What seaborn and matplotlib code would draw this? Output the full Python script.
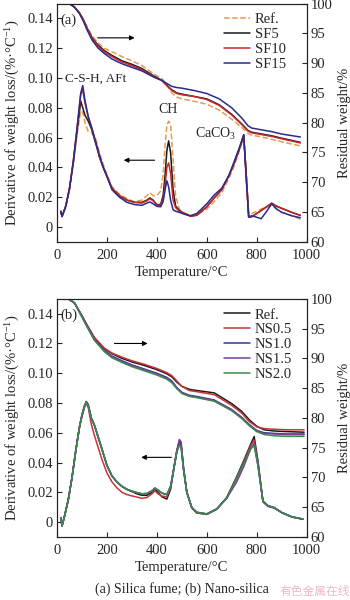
# TG / DTG curves of the cement pastes: (a) silica fume, (b) nano-silica

import matplotlib
matplotlib.use('Agg')
import matplotlib.pyplot as plt
import seaborn as sns
import pandas as pd
import numpy as np

# ---- panel (a): DTG curves, left axis ----
temp_a_dtg = [15, 20, 35, 50, 65, 80, 95, 103, 112, 125,
              140, 155, 170, 185, 200, 220, 250, 280, 310, 340,
              360, 372, 385, 400, 415, 425, 433, 440, 447, 455,
              465, 475, 490, 510, 535, 560, 600, 630, 660, 690,
              710, 730, 748, 758, 768, 780, 800, 818, 840, 860,
              880, 900, 940, 975]
ref_a_dtg = [0.0105, 0.0072, 0.013, 0.025, 0.042, 0.062, 0.078, 0.077, 0.070, 0.064,
             0.063, 0.059, 0.050, 0.042, 0.035, 0.027, 0.022, 0.019, 0.017, 0.018,
             0.021, 0.023, 0.021, 0.021, 0.024, 0.035, 0.055, 0.068, 0.071, 0.069,
             0.045, 0.021, 0.012, 0.0095, 0.0078, 0.008, 0.012, 0.017, 0.023, 0.033,
             0.041, 0.051, 0.060, 0.038, 0.009, 0.009, 0.0105, 0.012, 0.0135, 0.0145,
             0.012, 0.010, 0.0075, 0.0052]
sf5_a_dtg = [0.0105, 0.007, 0.014, 0.026, 0.043, 0.064, 0.0845, 0.080, 0.075, 0.071,
             0.065, 0.056, 0.047, 0.040, 0.034, 0.026, 0.021, 0.018, 0.0165, 0.0165,
             0.018, 0.0195, 0.018, 0.015, 0.015, 0.021, 0.035, 0.051, 0.0578, 0.050,
             0.025, 0.014, 0.011, 0.009, 0.0072, 0.0078, 0.0135, 0.0195, 0.025, 0.035,
             0.043, 0.052, 0.062, 0.035, 0.0065, 0.0068, 0.009, 0.011, 0.0135, 0.0158,
             0.0138, 0.0125, 0.0098, 0.0078]
sf10_a_dtg = [0.0105, 0.007, 0.014, 0.026, 0.044, 0.066, 0.089, 0.092, 0.083, 0.074,
              0.066, 0.057, 0.047, 0.040, 0.034, 0.026, 0.021, 0.018, 0.0165, 0.016,
              0.0175, 0.019, 0.0175, 0.0145, 0.0145, 0.019, 0.028, 0.040, 0.043, 0.036,
              0.018, 0.013, 0.0105, 0.009, 0.0072, 0.008, 0.0135, 0.0195, 0.025, 0.035,
              0.043, 0.052, 0.0615, 0.035, 0.0065, 0.0068, 0.009, 0.011, 0.0135, 0.016,
              0.014, 0.0125, 0.0098, 0.0077]
sf15_a_dtg = [0.0105, 0.007, 0.014, 0.026, 0.044, 0.066, 0.090, 0.095, 0.085, 0.074,
              0.066, 0.057, 0.048, 0.040, 0.034, 0.025, 0.020, 0.0165, 0.015, 0.0145,
              0.016, 0.0168, 0.0155, 0.0138, 0.0135, 0.017, 0.025, 0.031, 0.027, 0.018,
              0.0115, 0.0105, 0.0098, 0.0085, 0.0075, 0.009, 0.0155, 0.0215, 0.026, 0.035,
              0.044, 0.053, 0.0615, 0.032, 0.0068, 0.0075, 0.0065, 0.0055, 0.0105, 0.0155,
              0.012, 0.0098, 0.0075, 0.0062]

# ---- panel (a): TG curves, right axis ----
temp_a_tg = [20, 50, 70, 90, 105, 120, 140, 165, 190, 220,
             260, 300, 340, 390, 420, 440, 460, 480, 500, 550,
             600, 650, 700, 740, 765, 780, 820, 860, 900, 975]
ref_a_tg = [100, 100, 99.4, 98.5, 97.4, 96.1, 94.6, 93.4, 92.5, 91.9,
            91.1, 90.4, 89.6, 88.1, 87.4, 86.4, 85.0, 84.3, 84.0, 83.6,
            83.1, 82.1, 80.6, 79.2, 78.2, 77.9, 77.6, 77.2, 76.8, 76.1]
sf5_a_tg = [100, 100, 99.4, 98.4, 97.3, 95.9, 94.3, 93.0, 92.1, 91.3,
            90.4, 89.8, 89.1, 87.8, 87.1, 86.3, 85.5, 85.0, 84.8, 84.4,
            84.0, 83.0, 81.4, 79.8, 78.7, 78.4, 78.1, 77.8, 77.4, 76.7]
sf10_a_tg = [100, 100, 99.4, 98.4, 97.3, 95.9, 94.2, 92.8, 91.9, 91.1,
             90.2, 89.6, 88.9, 87.7, 87.1, 86.2, 85.4, 84.9, 84.7, 84.4,
             83.9, 82.9, 81.3, 79.7, 78.6, 78.3, 78.0, 77.7, 77.3, 76.6]
sf15_a_tg = [100, 100, 99.4, 98.3, 97.1, 95.6, 93.9, 92.5, 91.6, 90.7,
             89.9, 89.3, 88.7, 87.6, 87.1, 86.6, 86.1, 85.9, 85.8, 85.4,
             84.9, 84.0, 82.5, 80.8, 79.5, 79.1, 78.8, 78.5, 78.1, 77.6]

# ---- panel (b): DTG curves ----
temp_b_dtg = [15, 20, 30, 45, 60, 75, 90, 100, 110, 117,
              125, 137, 150, 165, 180, 200, 220, 240, 260, 280,
              300, 320, 340, 360, 380, 392, 405, 420, 440, 455,
              468, 480, 490, 497, 507, 520, 540, 560, 600, 640,
              680, 720, 750, 775, 790, 805, 825, 845, 870, 900,
              940, 985]
ref_b_dtg = [0.003, -0.0025, 0.004, 0.015, 0.030, 0.048, 0.064, 0.072, 0.078, 0.081,
             0.079, 0.070, 0.065, 0.057, 0.049, 0.038, 0.031, 0.027, 0.024, 0.022,
             0.0205, 0.019, 0.018, 0.018, 0.020, 0.022, 0.020, 0.017, 0.0155, 0.022,
             0.036, 0.048, 0.054, 0.052, 0.036, 0.020, 0.0095, 0.0062, 0.0052, 0.0087,
             0.0165, 0.0305, 0.042, 0.052, 0.0575, 0.041, 0.014, 0.011, 0.0096, 0.0064,
             0.0035, 0.002]
ns05_b_dtg = [0.003, -0.0025, 0.004, 0.015, 0.030, 0.048, 0.064, 0.071, 0.077, 0.080,
              0.077, 0.066, 0.058, 0.050, 0.042, 0.033, 0.027, 0.023, 0.020, 0.0185,
              0.0176, 0.0168, 0.016, 0.0165, 0.019, 0.021, 0.019, 0.0175, 0.017, 0.023,
              0.036, 0.048, 0.054, 0.053, 0.036, 0.020, 0.0095, 0.0062, 0.0052, 0.0087,
              0.0165, 0.030, 0.041, 0.051, 0.055, 0.040, 0.014, 0.011, 0.0096, 0.0064,
              0.0035, 0.002]
ns10_b_dtg = [0.003, -0.0025, 0.004, 0.015, 0.030, 0.048, 0.064, 0.072, 0.078, 0.0805,
              0.078, 0.070, 0.065, 0.057, 0.049, 0.038, 0.031, 0.027, 0.024, 0.022,
              0.0208, 0.0198, 0.019, 0.0192, 0.021, 0.0228, 0.0215, 0.0195, 0.0185, 0.024,
              0.036, 0.047, 0.054, 0.052, 0.035, 0.020, 0.0098, 0.0066, 0.0055, 0.0088,
              0.0162, 0.0295, 0.040, 0.049, 0.052, 0.038, 0.014, 0.011, 0.0098, 0.0065,
              0.0036, 0.002]
ns15_b_dtg = [0.003, -0.0025, 0.004, 0.015, 0.030, 0.048, 0.064, 0.072, 0.078, 0.0805,
              0.078, 0.070, 0.065, 0.057, 0.049, 0.038, 0.031, 0.027, 0.024, 0.022,
              0.0208, 0.0198, 0.019, 0.0192, 0.021, 0.0228, 0.0215, 0.0195, 0.0185, 0.024,
              0.036, 0.048, 0.0555, 0.054, 0.036, 0.020, 0.0098, 0.0066, 0.0055, 0.0088,
              0.0160, 0.027, 0.038, 0.049, 0.053, 0.040, 0.0135, 0.0105, 0.0095, 0.0065,
              0.0036, 0.002]
ns20_b_dtg = [0.003, -0.0025, 0.004, 0.015, 0.030, 0.048, 0.064, 0.072, 0.078, 0.0805,
              0.078, 0.070, 0.065, 0.057, 0.049, 0.038, 0.031, 0.027, 0.024, 0.022,
              0.0208, 0.0198, 0.019, 0.0192, 0.021, 0.0228, 0.0215, 0.0195, 0.0185, 0.024,
              0.036, 0.047, 0.0515, 0.050, 0.035, 0.020, 0.0098, 0.0066, 0.0055, 0.0088,
              0.0162, 0.0295, 0.040, 0.049, 0.0515, 0.038, 0.014, 0.011, 0.0098, 0.0065,
              0.0036, 0.002]

# ---- panel (b): TG curves ----
temp_b_tg = [20, 45, 70, 95, 120, 150, 190, 220, 260, 300,
             350, 400, 440, 460, 480, 500, 530, 560, 630, 700,
             740, 770, 800, 830, 870, 920, 990]
ref_b_tg = [100, 100, 99.3, 97.5, 95.6, 93.4, 91.6, 90.8, 90.0, 89.4,
            88.8, 88.1, 87.4, 86.9, 86.0, 85.3, 84.8, 84.6, 84.2, 82.4,
            81.1, 79.7, 78.6, 78.0, 77.8, 77.7, 77.6]
ns05_b_tg = [100, 100, 99.3, 97.5, 95.6, 93.5, 91.7, 90.9, 90.2, 89.6,
             89.0, 88.3, 87.6, 87.1, 86.2, 85.3, 84.6, 84.4, 83.9, 82.1,
             80.8, 79.4, 78.5, 78.2, 78.1, 78.0, 78.0]
ns10_b_tg = [100, 100, 99.3, 97.4, 95.4, 93.2, 91.3, 90.4, 89.6, 88.9,
             88.2, 87.5, 86.8, 86.2, 85.1, 84.3, 83.8, 83.6, 83.0, 81.4,
             80.1, 78.9, 77.9, 77.5, 77.4, 77.3, 77.3]
ns15_b_tg = [100, 100, 99.3, 97.4, 95.4, 93.1, 91.2, 90.3, 89.5, 88.8,
             88.1, 87.4, 86.7, 86.1, 85.0, 84.2, 83.7, 83.5, 82.9, 81.3,
             80.0, 78.8, 77.8, 77.4, 77.3, 77.2, 77.2]
ns20_b_tg = [100, 100, 99.3, 97.3, 95.3, 93.0, 91.1, 90.1, 89.3, 88.6,
             87.9, 87.2, 86.5, 85.9, 84.9, 84.1, 83.6, 83.4, 82.8, 81.2,
             79.9, 78.7, 77.7, 77.2, 77.0, 76.9, 76.9]

labels_a = ['Ref.', 'SF5', 'SF10', 'SF15']
labels_b = ['Ref.', 'NS0.5', 'NS1.0', 'NS1.5', 'NS2.0']
colors_a = ['#e49b55', '#1a1a1a', '#c8282c', '#2a2b8c']
colors_b = ['#1a1a1a', '#c8343a', '#2b3a92', '#7b3c9c', '#3a8a4c']
styles_a = ['--', '-', '-', '-']
styles_b = ['-', '-', '-', '-', '-']

sns.set_style('ticks')
plt.rcParams['font.family'] = ['Liberation Serif', 'DejaVu Sans']
plt.rcParams['mathtext.fontset'] = 'custom'
plt.rcParams['mathtext.rm'] = 'Liberation Serif'
plt.rcParams['mathtext.it'] = 'Liberation Serif:italic'
plt.rcParams['mathtext.bf'] = 'Liberation Serif:bold'
fs = 10.5

fig = plt.figure(figsize=(3.5, 6), dpi=100)
fig.patch.set_facecolor('white')

panels = [
    ([0.163, 0.597, 0.713, 0.397], temp_a_dtg, [ref_a_dtg, sf5_a_dtg, sf10_a_dtg, sf15_a_dtg],
     temp_a_tg, [ref_a_tg, sf5_a_tg, sf10_a_tg, sf15_a_tg], labels_a, colors_a, styles_a),
    ([0.163, 0.105, 0.713, 0.397], temp_b_dtg, [ref_b_dtg, ns05_b_dtg, ns10_b_dtg, ns15_b_dtg, ns20_b_dtg],
     temp_b_tg, [ref_b_tg, ns05_b_tg, ns10_b_tg, ns15_b_tg, ns20_b_tg], labels_b, colors_b, styles_b),
]

axes = []
for rect, t_dtg, dtg, t_tg, tg, labels, colors, styles in panels:
    ax = fig.add_axes(rect)
    ax2 = ax.twinx()
    handles = []
    for y, lab, c, ls in zip(dtg, labels, colors, styles):
        df = pd.DataFrame({'T': t_dtg, 'v': y})
        sns.lineplot(data=df, x='T', y='v', ax=ax, color=c, lw=1.1, ls=ls)
    for y, lab, c, ls in zip(tg, labels, colors, styles):
        df = pd.DataFrame({'T': t_tg, 'v': y})
        sns.lineplot(data=df, x='T', y='v', ax=ax2, color=c, lw=1.1, ls=ls)
        handles.append(plt.Line2D([], [], color=c, lw=1.1, ls=ls, label=lab))

    ax.set_xlim(0, 1000)
    ax.set_ylim(-0.01, 0.15)
    ax2.set_ylim(60, 100)
    ax.set_xticks(np.arange(0, 1001, 200))
    ax.set_yticks(np.arange(0, 0.141, 0.02))
    ax.set_yticklabels(['0', '0.02', '0.04', '0.06', '0.08', '0.10', '0.12', '0.14'])
    ax2.set_yticks(np.arange(60, 101, 5))
    ax.tick_params(axis='both', direction='in', length=3.5, width=0.8, labelsize=fs, pad=3)
    ax.tick_params(axis='x', pad=5)
    ax2.tick_params(axis='y', direction='in', length=3.5, width=0.8, labelsize=fs, pad=3)
    for a in (ax, ax2):
        for s in a.spines.values():
            s.set_linewidth(0.8)
            s.set_color('#222222')
    ax.set_xlabel('Temperature/°C', fontsize=fs, labelpad=3)
    ax.set_ylabel('Derivative of weight loss/(%·°C$^{-1}$)', fontsize=fs, labelpad=4)
    ax2.set_ylabel('Residual weight/%', fontsize=fs, labelpad=4)
    ax2.legend(handles=handles, loc='upper left', bbox_to_anchor=(0.67, 0.96), frameon=False,
               fontsize=fs, handlelength=1.8, handletextpad=0.3, labelspacing=0.12,
               borderpad=0, borderaxespad=0)
    axes.append(ax)

ax_a, ax_b = axes
arrow = dict(arrowstyle='-|>', color='black', lw=0.8, mutation_scale=7)

# panel (a) annotations
ax_a.text(15, 0.139, '(a)', fontsize=fs, ha='left', va='center')
ax_a.text(30, 0.0995, 'C-S-H, AFt', fontsize=9.5, ha='left', va='center')
ax_a.text(445, 0.079, 'CH', fontsize=10, ha='center', va='center')
ax_a.text(553, 0.0625, 'CaCO$_3$', fontsize=10, ha='left', va='center')
ax_a.annotate('', xy=(322, 0.127), xytext=(152, 0.127), arrowprops=arrow)
ax_a.annotate('', xy=(256, 0.0448), xytext=(402, 0.0448), arrowprops=arrow)

# panel (b) annotations
ax_b.text(15, 0.139, '(b)', fontsize=fs, ha='left', va='center')
ax_b.annotate('', xy=(374, 0.120), xytext=(219, 0.120), arrowprops=arrow)
ax_b.annotate('', xy=(326, 0.0435), xytext=(469, 0.0435), arrowprops=arrow)

fig.text(0.52, 0.018, '(a) Silica fume; (b) Nano-silica', fontsize=10, ha='center', va='center')
fig.text(0.9, 0.014, '有色金属在线', fontsize=8.5, ha='center', va='center',
         color='#f2b8c2', family=['Noto Sans CJK SC', 'DejaVu Sans'])

fig.savefig('out.png', dpi=100, facecolor='white')
